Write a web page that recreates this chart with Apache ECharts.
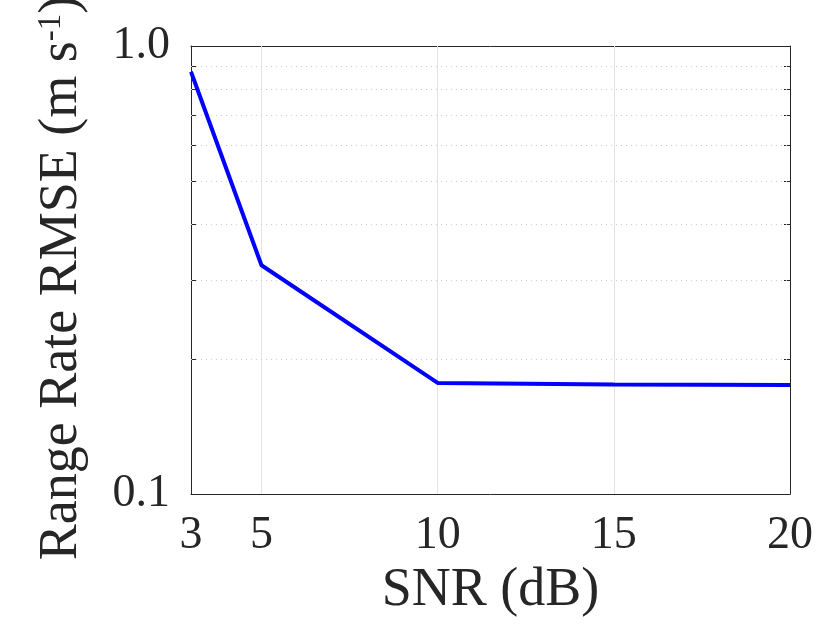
<!DOCTYPE html>
<html>
<head>
<meta charset="utf-8">
<style>
  html, body { margin: 0; padding: 0; background: #fff; }
  #chart { width: 831px; height: 637px; }
</style>
</head>
<body>
<div id="chart"></div>
<script src="https://cdn.jsdelivr.net/npm/echarts@6/dist/echarts.min.js"></script>
<script>
// data
var snr = [3, 5, 10, 15, 20];
var rmse = [0.876, 0.324, 0.177, 0.1755, 0.175];
var xTicks = [3, 5, 10, 15, 20];
var xGrid = [5, 10, 15];
var yTicks = [0.1, 0.2, 0.3, 0.4, 0.5, 0.6, 0.7, 0.8, 0.9, 1.0];
var yGrid = [0.2, 0.3, 0.4, 0.5, 0.6, 0.7, 0.8, 0.9];

var font = 'Liberation Serif';
var ink = '#262626';

var chart = echarts.init(document.getElementById('chart'), null, { renderer: 'canvas' });

var gridLines = [];
xGrid.forEach(function (v) {
  gridLines.push({ xAxis: v, lineStyle: { color: '#e3e3e3', type: 'solid', width: 1 } });
});
yGrid.forEach(function (v) {
  gridLines.push({ yAxis: v, lineStyle: { color: '#cfcfcf', type: [1, 4], width: 1 } });
});

var option = {
  backgroundColor: '#fff',
  animation: false,
  grid: { left: 191, top: 46, right: 41, bottom: 143, containLabel: false, outerBoundsMode: 'none' },
  xAxis: [{
    type: 'value', min: 3, max: 20, position: 'bottom',
    name: 'SNR (dB)', nameLocation: 'middle', nameGap: 70,
    nameTextStyle: { fontFamily: font, fontSize: 54, color: ink },
    axisLine: { show: true, lineStyle: { color: ink, width: 1 } },
    axisTick: { show: true, inside: true, length: 6, customValues: xTicks, lineStyle: { color: ink } },
    axisLabel: { customValues: xTicks, margin: 19, fontFamily: font, fontSize: 46, color: ink },
    splitLine: { show: false }
  }, {
    type: 'value', min: 3, max: 20, position: 'top',
    axisLine: { show: true, lineStyle: { color: ink, width: 1 } },
    axisTick: { show: true, inside: true, length: 6, customValues: xTicks, lineStyle: { color: ink } },
    axisLabel: { show: false },
    splitLine: { show: false }
  }],
  yAxis: [{
    type: 'log', logBase: 10, min: 0.1, max: 1, position: 'left',
    name: '{t|Range Rate RMSE (m s}{s|-1}{t|)}', nameLocation: 'middle', nameGap: 102, nameRotate: 90,
    nameTextStyle: {
      fontFamily: font, fontSize: 54, color: ink,
      padding: [0, 16, 0, 0],
      rich: {
        t: { fontFamily: font, fontSize: 54, color: ink },
        s: { fontFamily: font, fontSize: 33, color: ink, verticalAlign: 'top' }
      }
    },
    axisLine: { show: true, lineStyle: { color: ink, width: 1 } },
    axisTick: { show: true, inside: true, length: 6, customValues: yTicks, lineStyle: { color: ink } },
    axisLabel: {
      customValues: [0.1, 1], margin: 21, fontFamily: font, fontSize: 46, color: ink,
      padding: [0, 0, 12, 0],
      formatter: function (v) { return v >= 1 ? '1.0' : '0.1'; }
    },
    splitLine: { show: false }
  }, {
    type: 'log', logBase: 10, min: 0.1, max: 1, position: 'right',
    axisLine: { show: true, lineStyle: { color: ink, width: 1 } },
    axisTick: { show: true, inside: true, length: 6, customValues: yTicks, lineStyle: { color: ink } },
    axisLabel: { show: false },
    splitLine: { show: false }
  }],
  series: [{
    type: 'line',
    data: snr.map(function (x, i) { return [x, rmse[i]]; }),
    showSymbol: false,
    lineStyle: { color: '#0000ff', width: 4 },
    itemStyle: { color: '#0000ff' },
    z: 5,
    markLine: {
      silent: true, symbol: 'none', label: { show: false },
      animation: false, z: 1,
      data: gridLines
    }
  }]
};
chart.setOption(option);
</script>
</body>
</html>
